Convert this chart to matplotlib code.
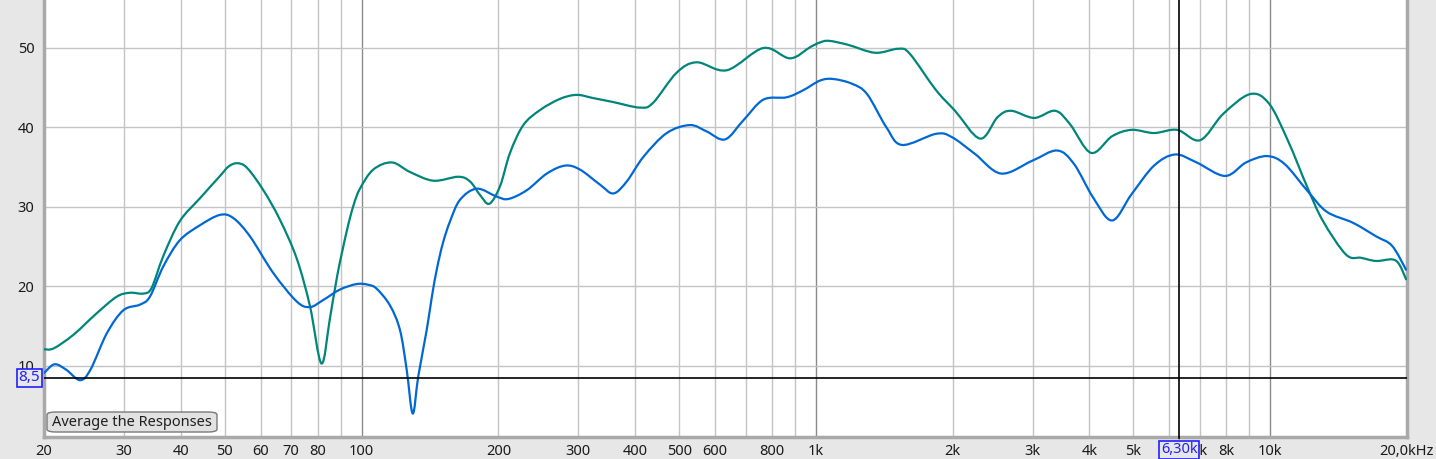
import matplotlib
matplotlib.use("Agg")
import matplotlib.pyplot as plt
from matplotlib.patches import FancyBboxPatch, PathPatch
from matplotlib.path import Path
import numpy as np

plt.rcParams['font.family'] = ['Noto Sans', 'DejaVu Sans']

# teal response (Hz, dB)
teal_f = [20, 21.0, 23.2, 26.1, 28.9, 30.9, 33.1, 34.5, 36.6, 39.8, 44.1, 48.8,
          51.0, 53.3, 56.0, 60.8, 66.1, 72.0, 77.0, 81.6, 85.2, 88.5, 92.8, 96.0,
          99.2, 106.1, 116.6, 127.8, 143.9, 163.3, 173.3, 182.3, 191.1, 201.7,
          212.2, 227.0, 247.2, 273.4, 297.6, 323.3, 357.8, 410.2, 438.1, 493.9,
          546.7, 636.6, 766.2, 877.2, 970.8, 1021, 1069, 1177, 1350, 1517, 1608,
          1838, 2024, 2298, 2511, 2689, 3022, 3362, 3626, 4034, 4488, 4952, 5550,
          6238, 7010, 7876, 9030, 9942, 10946, 12084, 13072, 14686, 15850, 17102,
          18546, 19214, 19908]
teal_db = [12.1, 12.2, 13.9, 16.6, 18.7, 19.2, 19.1, 19.8, 23.8, 28.2, 31.1, 33.9,
           35.1, 35.5, 34.9, 32.1, 28.4, 23.5, 17.5, 10.3, 16.0, 21.5, 27.0, 30.2,
           32.3, 34.7, 35.6, 34.4, 33.3, 33.8, 33.2, 31.5, 30.4, 32.6,
           36.8, 40.3, 42.2, 43.6, 44.1, 43.7, 43.2, 42.5, 43.1, 46.9,
           48.2, 47.2, 50.0, 48.7, 50.1, 50.7, 50.9, 50.4, 49.4, 49.9, 49.3,
           44.7, 42.1, 38.6, 41.3, 42.1, 41.2, 42.1, 40.4, 36.8, 38.9, 39.7, 39.3,
           39.7, 38.4, 41.7, 44.2, 43.0, 38.3, 32.4, 28.2, 24.0, 23.6, 23.2,
           23.4, 22.8, 20.9]

# blue response (Hz, dB)
blue_f = [20, 21.1, 22.4, 24.0, 25.3, 27.5, 29.9, 32.5, 34.2, 36.6, 39.8, 44.1,
          48.8, 52.2, 56.8, 63.9, 72.0, 77.0, 82.4, 89.6, 97.6, 103.5, 108.0,
          115.5, 121.5, 125.7, 129.6, 133.3, 139.1, 142.9, 146.6, 151.1, 156.6,
          164.7, 179.3, 198.4, 210.4, 231.0, 255.7, 280.5, 302.5, 334.9, 358.3,
          383.4, 417.2, 469.6, 528.4, 574.9, 631.0, 692.4, 766.2, 862.6, 938.6,
          1021, 1091, 1201, 1296, 1430, 1547, 1838, 1990, 2236, 2556, 2990, 3396,
          3700, 4074, 4488, 4952, 5550, 6176, 6884, 7956, 8848, 9840, 10756,
          12084, 13312, 15216, 17102, 18546, 19908]
blue_db = [9.1, 10.2, 9.5, 8.2, 9.5, 14.1, 17.0, 17.7, 18.7, 22.5, 25.8, 27.7,
           29.0, 28.6, 26.3, 21.7, 18.1, 17.4, 18.3, 19.6, 20.3, 20.2, 19.7,
           17.6, 14.5, 9.5, 4.0, 8.7, 14.5, 18.8, 22.3, 25.5, 28.2,
           30.9, 32.3, 31.3, 31.0, 32.1, 34.2, 35.2, 34.7, 32.8, 31.7,
           33.2, 36.3, 39.3, 40.3, 39.5, 38.5, 40.9, 43.5, 43.8, 44.7,
           45.9, 46.1, 45.5, 44.2, 40.0, 37.8, 39.2, 38.8, 36.7, 34.2, 35.8, 37.1,
           35.4, 31.2, 28.3, 31.6, 35.2, 36.6, 35.6, 33.9, 35.6, 36.4, 35.4,
           32.0, 29.4, 28.0, 26.3, 25.1, 22.1]

tick_f = [20, 30, 40, 50, 60, 70, 80, 100, 200, 300, 400, 500, 600, 800, 1000,
          2000, 3000, 4000, 5000, 7000, 8000, 10000, 20000]
tick_lab = ['20', '30', '40', '50', '60', '70', '80', '100', '200', '300', '400',
            '500', '600', '800', '1k', '2k', '3k', '4k', '5k', '7k', '8k', '10k',
            '20,0kHz']
y_ticks = [10, 20, 30, 40, 50]
cursor_f = 6300
cursor_db = 8.5


def curve_path(f, db):
    # smooth bezier through the read points, built in log-frequency space
    p = np.column_stack([np.log10(f), db])
    verts = [p[0]]
    codes = [Path.MOVETO]
    n = len(p)
    for i in range(n - 1):
        p0 = p[i - 1] if i > 0 else p[i]
        p3 = p[i + 2] if i + 2 < n else p[i + 1]
        c1 = p[i] + (p[i + 1] - p0) / 6
        c2 = p[i + 1] - (p3 - p[i]) / 6
        verts += [c1, c2, p[i + 1]]
        codes += [Path.CURVE4] * 3
    verts = np.array(verts)
    verts[:, 0] = 10 ** verts[:, 0]
    return Path(verts, codes)


W, H = 1436, 459
bg = '#e7e7e7'
fig = plt.figure(figsize=(W / 100, H / 100), dpi=100, facecolor=bg)
ax = fig.add_axes([44 / W, (H - 437) / H, (1407 - 44) / W, 437 / H])
ax.set_facecolor('white')
ax.set_xscale('log')
ax.set_xlim(20, 20000)
ax.set_ylim(1.05, 56.04)

# grid
minor = [m * 10 ** e for e in range(1, 4) for m in range(2, 10)]
for f in minor:
    if 20 < f < 20000:
        ax.axvline(f, color='#c4c4c4', lw=1, zorder=1)
for f in [100, 1000, 10000]:
    ax.axvline(f, color='#8a8a8a', lw=1, zorder=1)
for y in y_ticks:
    ax.axhline(y, color='#c4c4c4', lw=1, zorder=1)

ax.add_patch(PathPatch(curve_path(teal_f, teal_db), fc='none', ec='#00857a',
                       lw=1.6, zorder=3, joinstyle='round', capstyle='round'))
ax.add_patch(PathPatch(curve_path(blue_f, blue_db), fc='none', ec='#0068d4',
                       lw=1.6, zorder=4, joinstyle='round', capstyle='round'))

# cursor crosshair
ax.axvline(cursor_f, color='black', lw=1.2, zorder=5)
ax.axhline(cursor_db, color='black', lw=1.2, zorder=5)

ax.set_xticks(tick_f)
ax.set_xticklabels(tick_lab)
ax.xaxis.set_minor_locator(matplotlib.ticker.NullLocator())
ax.set_yticks(y_ticks)
ax.tick_params(axis='both', length=0, labelsize=10.5, colors='#1a1a1a')
ax.tick_params(axis='x', pad=5)
ax.tick_params(axis='y', pad=7)

for s in ['left', 'bottom', 'right']:
    ax.spines[s].set_color('#a9a9a9')
    ax.spines[s].set_linewidth(2.5)
ax.spines['top'].set_visible(False)

# cursor value boxes
ax.annotate('6,30k', xy=(cursor_f, 0), xycoords=('data', 'axes fraction'),
            xytext=(0, -9.2), textcoords='offset points', ha='center', va='center',
            fontsize=10.5, color='#2020ff', annotation_clip=False,
            bbox=dict(boxstyle='square,pad=0.12', fc=bg, ec='#2020ff', lw=1.2))
ax.annotate('', xy=(cursor_f, 0), xycoords=('data', 'axes fraction'),
            xytext=(cursor_f, -0.01), textcoords=('data', 'axes fraction'),
            arrowprops=dict(arrowstyle='-', color='black', lw=1.2),
            annotation_clip=False)
ax.annotate('8,5', xy=(0, cursor_db), xycoords=('axes fraction', 'data'),
            xytext=(-10.6, 0), textcoords='offset points', ha='center', va='center',
            fontsize=11, color='#2020ff', annotation_clip=False,
            bbox=dict(boxstyle='square,pad=0.1', fc=bg, ec='#2020ff', lw=1.2))

# button
btn = FancyBboxPatch((47 / W, (H - 432) / H), 170 / W, 20 / H,
                     boxstyle='round,pad=0,rounding_size=0.006',
                     transform=fig.transFigure, fc='#e2e2e2', ec='#7a7a7a',
                     lw=1, zorder=10)
fig.patches.append(btn)
fig.text(132 / W, (H - 422) / H, 'Average the Responses', ha='center',
         va='center', fontsize=10.5, color='#202020', zorder=11)

fig.savefig('out.png', dpi=100, facecolor=bg)
